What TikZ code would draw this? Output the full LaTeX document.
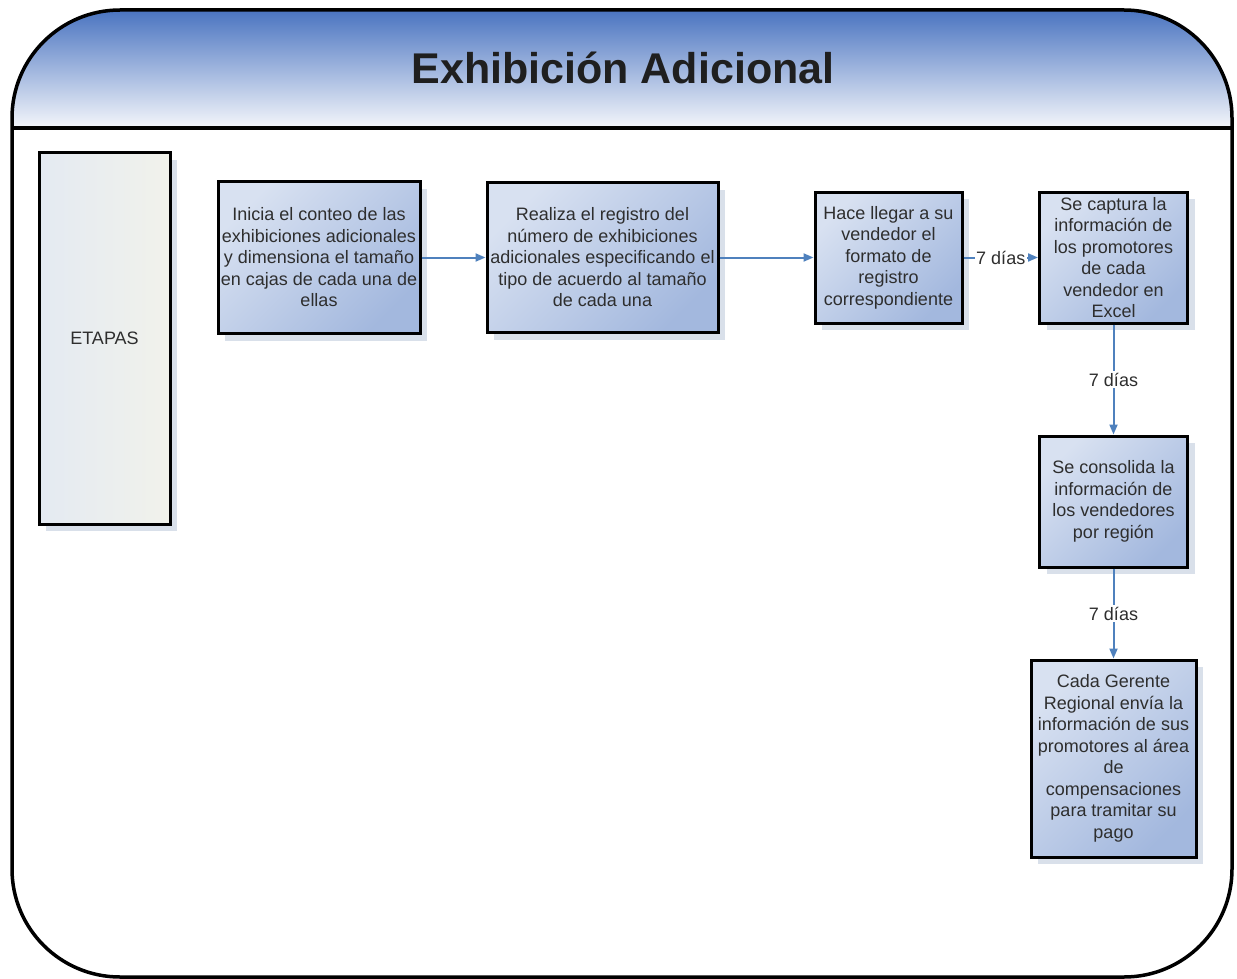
\documentclass[tikz,border=0pt]{standalone}
\usepackage{fontspec}
\setmainfont{Liberation Sans}
\usetikzlibrary{arrows.meta,shadows}
\definecolor{hdr}{HTML}{4A74C0}
\definecolor{hdrb}{HTML}{F4F6FB}
\definecolor{boxl}{HTML}{D8E1F1}
\definecolor{boxd}{HTML}{A3B8DE}
\definecolor{etl}{HTML}{E4EAF2}
\definecolor{etr}{HTML}{F1F2EB}
\definecolor{shadowc}{HTML}{D9E0EA}
\definecolor{arrc}{HTML}{4F81BD}
\definecolor{txt}{HTML}{2E2E2E}
\begin{document}
\begin{tikzpicture}[x=1pt,y=-1pt,
  stepbox/.style={draw=black, line width=3pt, top color=boxl, bottom color=boxd, shading angle=45,
    drop shadow={shadow xshift=7pt, shadow yshift=-7pt, fill=shadowc, opacity=1},
    align=center, font=\fontsize{18}{21.5}\selectfont, text=txt, inner sep=0pt},
  conn/.style={draw=arrc, line width=2pt, -{Triangle[length=10pt,width=8pt]}},
  lbl/.style={fill=white, inner sep=1.5pt, font=\fontsize{18}{21.5}\selectfont, text=txt}]
\useasboundingbox (0,0) rectangle (1237,979);
\begin{scope}
  \clip[rounded corners=108pt] (12,10) rectangle (1232,977);
  \shade[top color=hdr, bottom color=hdrb] (12,10) rectangle (1232,128);
\end{scope}
\draw[line width=3.5pt] (12,128) -- (1232,128);
\draw[line width=3.5pt, rounded corners=108pt] (12,10) rectangle (1232,977);
\node[font=\fontsize{43}{50}\selectfont\bfseries, text=black!88] (title) at (623,68) {Exhibición Adicional};

\node[stepbox, left color=etl, right color=etr, minimum width=131pt, minimum height=371pt] (et) at (104.5,338.5) {ETAPAS};

\node[stepbox, minimum width=202pt, minimum height=152pt] (b1) at (319,257.5)
  {Inicia el conteo de las\\exhibiciones adicionales\\y dimensiona el tamaño\\en cajas de cada una de\\ellas};
\node[stepbox, minimum width=231pt, minimum height=150pt] (b2) at (602.5,257.5)
  {Realiza el registro del\\número de exhibiciones\\adicionales especificando el\\tipo de acuerdo al tamaño\\de cada una};
\node[stepbox, minimum width=147pt, minimum height=131pt] (b3) at (888.5,257.5)
  {Hace llegar a su\\vendedor el\\formato de\\registro\\correspondiente};
\node[stepbox, minimum width=148pt, minimum height=131pt] (b4) at (1113.5,257.5)
  {Se captura la\\información de\\los promotores\\de cada\\vendedor en\\Excel};
\node[stepbox, minimum width=148pt, minimum height=131pt] (b5) at (1113.5,501.5)
  {Se consolida la\\información de\\los vendedores\\por región};
\node[stepbox, minimum width=165pt, minimum height=197pt] (b6) at (1113.5,758.5)
  {Cada Gerente\\Regional envía la\\información de sus\\promotores al área\\de\\compensaciones\\para tramitar su\\pago};

\draw[conn] (b1) -- (b2);
\draw[conn] (b2) -- (b3);
\draw[conn] (b3) -- node[lbl] {7 días} (b4);
\draw[conn] (b4) -- node[lbl] {7 días} (b5);
\draw[conn] (b5) -- node[lbl] {7 días} (b6);
\end{tikzpicture}
\end{document}
